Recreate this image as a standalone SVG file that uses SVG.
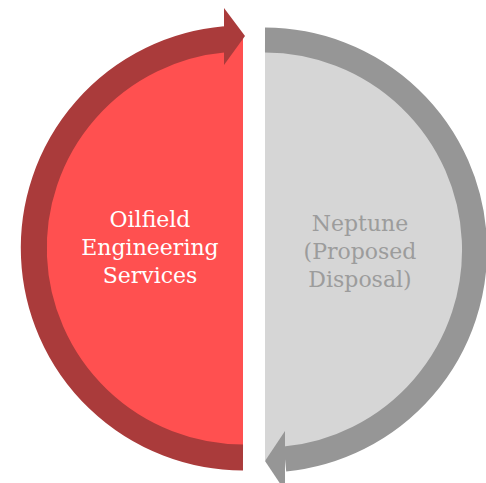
<svg xmlns="http://www.w3.org/2000/svg" width="486" height="483" viewBox="0 0 486 483">
<style>
.t{font-family:"DejaVu Serif","Liberation Serif",serif;font-size:22px;text-anchor:middle}
.band{fill:none;stroke-linecap:butt}
</style>
<rect width="486" height="483" fill="#FFFFFF"/>
<g id="node-oilfield">
<path d="M243,38 A210,210 0 0,0 243,458 Z" fill="#FF5050"/>
<text class="t" fill="#FFFFFF" x="150" y="227">Oilfield</text>
<text class="t" fill="#FFFFFF" x="150" y="255">Engineering</text>
<text class="t" fill="#FFFFFF" x="150" y="283">Services</text>
</g>
<g id="node-neptune">
<path d="M265,40 A210,210 0 0,1 265,460 Z" fill="#D6D6D6"/>
<text class="t" fill="#9C9C9C" x="360" y="231">Neptune</text>
<text class="t" fill="#9C9C9C" x="360" y="259">(Proposed</text>
<text class="t" fill="#9C9C9C" x="360" y="287">Disposal)</text>
</g>
<g id="connectors">
<path class="band" d="M243,457.5 A209.5,209.5 0 0,1 225,39.3" stroke="#AA3B3B" stroke-width="26"/>
<polygon points="224,8 245,36 224,65" fill="#AA3B3B"/>
<path class="band" d="M265,40 A210,210 0 0,1 285,459" stroke="#969696" stroke-width="25"/>
<polygon points="285,431 265,461 285,491" fill="#969696"/>
</g>
</svg>
